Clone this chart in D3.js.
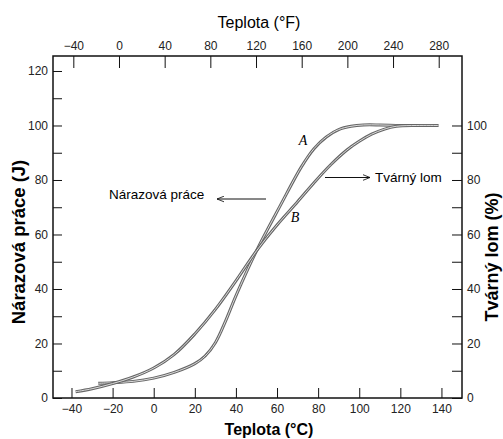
<!DOCTYPE html>
<html>
<head>
<meta charset="utf-8">
<script src="https://cdn.jsdelivr.net/npm/d3@7"></script>
<style>
  body { margin: 0; background: #fff; }
  svg { display: block; }
  .tick text { font-family: "Liberation Sans Narrow", "Liberation Sans", Arial, sans-serif; font-size: 12px; fill: #222; }
  .tick line { stroke: #111; }
  .domain { display: none; }
</style>
</head>
<body>
<svg id="chart" width="503" height="439"></svg>
<script>
// curve A (steeper) - temperature in C, value
let tempA = [-27, -20, -10, 0, 10, 20, 25, 30, 35, 40, 50, 61.5, 72, 78, 84, 90, 96, 102, 110, 120, 130, 138.5];
let valA  = [5.4, 5.6, 6.1, 7.3, 9.4, 12.6, 15.4, 20.3, 28.3, 37.5, 54, 70.5, 85, 91.5, 95.8, 98.5, 99.7, 100.2, 100.2, 100, 100, 100];
// curve B (gradual)
let tempB = [-38, -30, -20, -10, 0, 10, 20, 30, 40, 50, 60, 70, 78, 86, 94, 100, 106, 112, 118, 128, 138.5];
let valB  = [2.3, 3.4, 5.3, 7.7, 11, 16, 23.5, 32.5, 43, 54, 63.5, 72, 79, 85.5, 91, 94.2, 96.8, 98.6, 99.7, 100, 100];

let ticksC = [-40, -20, 0, 20, 40, 60, 80, 100, 120, 140];
let ticksF = [-40, 0, 40, 80, 120, 160, 200, 240, 280];
let ticksLeft = [0, 10, 20, 30, 40, 50, 60, 70, 80, 90, 100, 110, 120];
let ticksRight = [0, 10, 20, 30, 40, 50, 60, 70, 80, 90, 100];

let svg = d3.select('#chart');
let L = 53, R = 462, T = 56, B = 398;

let x = d3.scaleLinear().domain([-49, 150]).range([L, R]);
let xF = d3.scaleLinear().domain([-57.8, 300.4]).range([L, R]);
let y = d3.scaleLinear().domain([0, 125.5]).range([B, T]);

function fmt(d) { return d < 0 ? '\u2212' + Math.abs(d) : '' + d; }

// frame
svg.append('rect')
  .attr('x', L).attr('y', T)
  .attr('width', R - L).attr('height', B - T)
  .attr('fill', 'none').attr('stroke', '#111').attr('stroke-width', 1.5);

svg.append('g')
  .attr('transform', 'translate(0,' + B + ')')
  .call(d3.axisBottom(x).tickValues(ticksC).tickSize(-10).tickPadding(6).tickFormat(fmt));

svg.append('g')
  .attr('transform', 'translate(0,' + T + ')')
  .call(d3.axisTop(xF).tickValues(ticksF).tickSize(-12).tickPadding(6).tickFormat(fmt));

svg.append('g')
  .attr('transform', 'translate(' + L + ',0)')
  .call(d3.axisLeft(y).tickValues(ticksLeft).tickSize(-9).tickPadding(5)
    .tickFormat(function(d){ return d % 20 === 0 ? d : ''; }));

svg.append('g')
  .attr('transform', 'translate(' + R + ',0)')
  .call(d3.axisRight(y).tickValues(ticksRight).tickSize(-10).tickPadding(5)
    .tickFormat(function(d){ return d % 20 === 0 ? d : ''; }));

// curves
let line = d3.line().curve(d3.curveCatmullRom.alpha(0.5))
  .x(function(d){ return x(d[0]); })
  .y(function(d){ return y(d[1]); });

let curves = [d3.zip(tempA, valA), d3.zip(tempB, valB)];
curves.forEach(function(c) {
  svg.append('path').attr('d', line(c)).attr('fill', 'none')
    .attr('stroke', '#666').attr('stroke-width', 3);
  svg.append('path').attr('d', line(c)).attr('fill', 'none')
    .attr('stroke', '#dcdcdc').attr('stroke-width', 1);
});

// curve labels
svg.append('text').attr('x', 303).attr('y', 145)
  .attr('font-family', 'Liberation Serif, serif').attr('font-style', 'italic')
  .attr('font-size', 14).attr('text-anchor', 'middle').text('A');
svg.append('text').attr('x', 295).attr('y', 222)
  .attr('font-family', 'Liberation Serif, serif').attr('font-style', 'italic')
  .attr('font-size', 14).attr('text-anchor', 'middle').text('B');

// arrows
svg.append('defs').append('marker')
  .attr('id', 'arr').attr('viewBox', '0 0 10 10')
  .attr('refX', 10).attr('refY', 5)
  .attr('markerWidth', 9).attr('markerHeight', 7)
  .attr('markerUnits', 'userSpaceOnUse')
  .attr('orient', 'auto')
  .append('path').attr('d', 'M0,1 L10,5 L0,9')
  .attr('fill', 'none').attr('stroke', '#111').attr('stroke-width', 1.2);

svg.append('line').attr('x1', 266).attr('y1', 199).attr('x2', 217).attr('y2', 199)
  .attr('stroke', '#111').attr('stroke-width', 1).attr('marker-end', 'url(#arr)');
svg.append('line').attr('x1', 325).attr('y1', 177.5).attr('x2', 370).attr('y2', 177.5)
  .attr('stroke', '#111').attr('stroke-width', 1).attr('marker-end', 'url(#arr)');

svg.append('text').attr('x', 109).attr('y', 199)
  .attr('font-family', 'Liberation Sans, Arial, sans-serif').attr('font-size', 13.5)
  .text('Nárazová práce');
svg.append('text').attr('x', 375).attr('y', 182)
  .attr('font-family', 'Liberation Sans, Arial, sans-serif').attr('font-size', 13.5)
  .text('Tvárný lom');

// axis titles
svg.append('text').attr('x', 259).attr('y', 28).attr('text-anchor', 'middle')
  .attr('font-family', 'Liberation Sans, Arial, sans-serif').attr('font-size', 16)
  .text('Teplota (°F)');
svg.append('text').attr('x', 269).attr('y', 435).attr('text-anchor', 'middle')
  .attr('font-family', 'Liberation Sans, Arial, sans-serif').attr('font-size', 16)
  .attr('font-weight', 'bold').text('Teplota (°C)');
svg.append('text')
  .attr('transform', 'translate(25,242) rotate(-90)').attr('text-anchor', 'middle')
  .attr('font-family', 'Liberation Sans, Arial, sans-serif').attr('font-size', 18.5)
  .attr('font-weight', 'bold').text('Nárazová práce (J)');
svg.append('text')
  .attr('transform', 'translate(498,257) rotate(-90)').attr('text-anchor', 'middle')
  .attr('font-family', 'Liberation Sans, Arial, sans-serif').attr('font-size', 18)
  .attr('font-weight', 'bold').text('Tvárný lom (%)');
</script>
</body>
</html>
